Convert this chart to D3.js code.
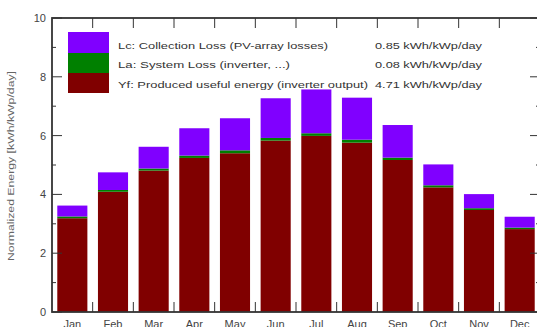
<!DOCTYPE html>
<html><head><meta charset="utf-8">
<script src="https://cdn.jsdelivr.net/npm/d3@7"></script>
<style>
html,body{margin:0;padding:0;background:#fff;overflow:hidden}
text{font-family:"Liberation Sans",Arial,sans-serif}
</style></head>
<body><svg id="c" width="537" height="327"></svg>
<script>
const months = ["Jan","Feb","Mar","Apr","May","Jun","Jul","Aug","Sep","Oct","Nov","Dec"];
const yf = [3.19,4.09,4.81,5.24,5.40,5.83,5.99,5.76,5.17,4.24,3.47,2.82];
const la = [0.06,0.06,0.07,0.08,0.10,0.09,0.09,0.10,0.08,0.07,0.06,0.05];
const lc = [0.37,0.60,0.74,0.93,1.09,1.35,1.49,1.43,1.11,0.71,0.48,0.37];
const seriesKeys = ["yf","la","lc"];
const seriesColors = {yf:"#800000", la:"#008000", lc:"#8000ff"};
const legendLabels = ["Lc: Collection Loss (PV-array losses)","La: System Loss  (inverter, ...)","Yf: Produced useful energy  (inverter output)"];
const legendValues = ["0.85 kWh/kWp/day","0.08 kWh/kWp/day","4.71 kWh/kWp/day"];
const yTicks = [0,2,4,6,8,10];
const yTitle = "Normalized Energy  [kWh/kWp/day]";

const svg = d3.select("#c");
const L = 52, R = 540, T = 18, B = 312;
const x = d3.scaleBand().domain(months).range([L, R]).paddingInner(0.26).paddingOuter(0.13);
const y = d3.scaleLinear().domain([0,10]).range([B, T]);

const table = months.map((m,i)=>({month:m, yf:yf[i], la:la[i], lc:lc[i]}));
const stack = d3.stack().keys(seriesKeys)(table);

svg.append("g").selectAll("g").data(stack).join("g")
  .attr("fill", d=>seriesColors[d.key])
  .selectAll("rect").data(d=>d).join("rect")
  .attr("x", d=>x(d.data.month))
  .attr("width", x.bandwidth())
  .attr("y", d=>y(d[1]))
  .attr("height", d=>y(d[0])-y(d[1]));

const axisColor = "#333";
svg.append("rect").attr("x",L).attr("y",T).attr("width",R-L).attr("height",B-T)
  .attr("fill","none").attr("stroke",axisColor).attr("stroke-width",1.8);

const step = x.step();
const bounds = months.slice(1).map(m => x(m) - step*x.paddingInner()/2);
const g = svg.append("g").attr("stroke",axisColor).attr("stroke-width",1);
bounds.forEach(b=>{
  g.append("line").attr("x1",b).attr("x2",b).attr("y1",B).attr("y2",B-10);
  g.append("line").attr("x1",b).attr("x2",b).attr("y1",T).attr("y2",T+10);
});
d3.range(0,11).forEach(v=>{
  const len = v%2===0 ? 10 : 4;
  g.append("line").attr("x1",L).attr("x2",L+len).attr("y1",y(v)).attr("y2",y(v));
  g.append("line").attr("x1",R).attr("x2",R-len).attr("y1",y(v)).attr("y2",y(v));
});

svg.append("g").selectAll("text").data(yTicks).join("text")
  .attr("x",46).attr("y",d=>y(d)+4)
  .attr("text-anchor","end").attr("font-size",11).attr("fill","#444")
  .text(d=>d);

svg.append("g").selectAll("text").data(months).join("text")
  .attr("x",d=>x(d)+x.bandwidth()/2).attr("y",328)
  .attr("text-anchor","middle").attr("font-size",11).attr("fill","#444")
  .text(d=>d);

svg.append("text").attr("transform","translate(14,166) rotate(-90)")
  .attr("text-anchor","middle").attr("font-size",9).attr("fill","#666")
  .attr("textLength",190).attr("lengthAdjust","spacingAndGlyphs")
  .text(yTitle);

const legKeys = ["lc","la","yf"];
const legY = [32,53,73,93];
const labelLens = [210,172,250];
const lg = svg.append("g");
legKeys.forEach((k,i)=>{
  lg.append("rect").attr("x",68).attr("y",legY[i]).attr("width",41).attr("height",legY[i+1]-legY[i])
    .attr("fill",seriesColors[k]);
  lg.append("text").attr("x",118).attr("y",48.5+i*19.5).attr("font-size",9).attr("fill","#333")
    .attr("textLength",labelLens[i]).attr("lengthAdjust","spacingAndGlyphs")
    .text(legendLabels[i]);
  lg.append("text").attr("x",375).attr("y",48.5+i*19.5).attr("font-size",9).attr("fill","#333")
    .attr("textLength",107).attr("lengthAdjust","spacingAndGlyphs")
    .text(legendValues[i]);
});
</script></body></html>
